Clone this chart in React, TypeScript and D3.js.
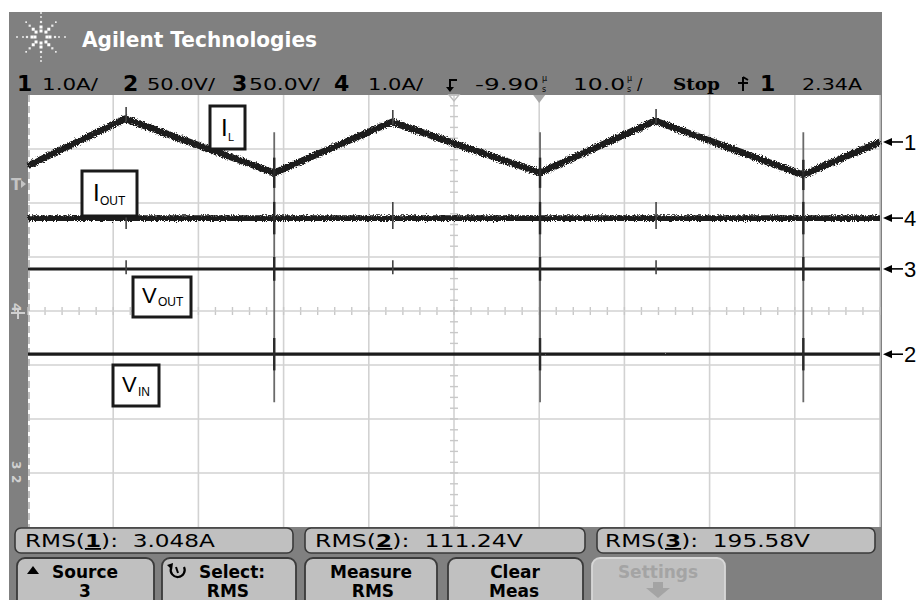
import React from 'react';
import * as d3 from 'd3';

// ---------- data ----------
const timeDomainUs = [0, 100];           // 10 us/div, 10 divisions
const divRange = [-4, 4];                // 8 vertical divisions
const channelIds = ['1', '2', '3', '4'];
const channelScaleText = ['1.0A/', '50.0V/', '50.0V/', '1.0A/'];
const unitsPerDiv = [1.0, 50, 50, 1.0];
const groundDiv = [0, -3, -3, 0];

// Ch1: inductor current (A)
const ilTimes = [0, 11.4, 28.9, 42.7, 60.1, 73.6, 91.0, 100];
const ilAmps = [2.69, 3.56, 2.56, 3.5, 2.56, 3.52, 2.52, 3.13];
// Ch4: output current (A)
const ioutTimes = [0, 100];
const ioutAmps = [1.72, 1.72];
// Ch3: output voltage (V)
const voutTimes = [0, 100];
const voutVolts = [189, 189];
// Ch2: input voltage (V)
const vinTimes = [0, 100];
const vinVolts = [110, 110];

// switching events (us)
const turnOnTimes = [28.9, 60.1, 91.0];
const turnOffTimes = [11.4, 42.7, 73.6];
const turnOnSpikeDiv = [-1.69, 3.31];

const measLabels = ['RMS(', 'RMS(', 'RMS('];
const measChannels = ['1', '2', '3'];
const measValues = ['3.048A', '111.24V', '195.58V'];

const softkeyTop = ['Source', 'Select:', 'Measure', 'Clear', 'Settings'];
const softkeyBottom = ['3', 'RMS', 'RMS', 'Meas', ''];

const markerChannels = ['1', '4', '3', '2'];

// ---------- layout ----------
const W = 917, H = 600;
const GX0 = 28, GX1 = 880, GY0 = 95, GY1 = 527;

const x = d3.scaleLinear().domain(timeDomainUs).range([GX0, GX1]);
const yDiv = d3.scaleLinear().domain(divRange).range([GY1, GY0]);
const chY = (ch: number, v: number) => yDiv(v / unitsPerDiv[ch] + groundDiv[ch]);

const line = d3.line<[number, number]>().x(d => d[0]).y(d => d[1]);

function tracePath(ch: number, times: number[], vals: number[]) {
  return line(times.map((t, i) => [x(t), chY(ch, vals[i])] as [number, number])) || '';
}

const channelLevel = (ch: number, t: number) => {
  if (ch === 0) {
    const i = d3.bisectRight(ilTimes, t) - 1;
    const j = Math.min(i + 1, ilTimes.length - 1);
    const f = j === i ? 0 : (t - ilTimes[i]) / (ilTimes[j] - ilTimes[i]);
    return ilAmps[i] + f * (ilAmps[j] - ilAmps[i]);
  }
  if (ch === 1) return vinVolts[0];
  if (ch === 2) return voutVolts[0];
  return ioutAmps[0];
};

const FONT = '"DejaVu Sans", sans-serif';
const ARIAL = '"Liberation Sans", Arial, sans-serif';

function Logo() {
  const cx = 41, cy = 37;
  const dots: JSX.Element[] = [];
  const rays = [
    { a: 0, r: [6, 9, 14, 18, 24] },
    { a: 180, r: [6, 9, 14, 18, 24] },
    { a: 90, r: [6, 10, 15, 20, 24] },
    { a: 270, r: [6, 10, 15, 20, 24] },
    { a: 45, r: [7, 11, 16, 21] },
    { a: 135, r: [7, 11, 16, 21] },
    { a: 225, r: [7, 11, 16, 21] },
    { a: 315, r: [7, 11, 16, 21] },
  ];
  rays.forEach((ray, k) => {
    ray.r.forEach((r, m) => {
      const rad = (ray.a * Math.PI) / 180;
      const s = m < 2 ? 3 : m < 3 ? 2.2 : 1.7;
      dots.push(
        <rect key={`${k}-${m}`} x={cx + r * Math.cos(rad) - s / 2} y={cy + r * Math.sin(rad) - s / 2} width={s} height={s}
          fill={m < 2 ? '#ffffff' : '#ececec'} />
      );
    });
  });
  return <g>{dots}</g>;
}

function MuS({ x0, y0 }: { x0: number; y0: number }) {
  return (
    <text x={x0} y={y0 - 9} fontFamily={FONT} fontSize={8} fill="#000">
      µ<tspan x={x0} dy={11}>s</tspan>
    </text>
  );
}

export default function App() {
  const gridV = d3.range(0, 11).map(i => GX0 + (i * (GX1 - GX0)) / 10);
  const gridH = d3.range(0, 9).map(i => GY0 + (i * (GY1 - GY0)) / 8);
  const cxC = (GX0 + GX1) / 2;
  const cyC = (GY0 + GY1) / 2;
  const minorX = d3.range(0, 51).map(i => GX0 + (i * (GX1 - GX0)) / 50);
  const minorY = d3.range(0, 41).map(i => GY0 + (i * (GY1 - GY0)) / 40);

  const traces = [
    { ch: 0, d: tracePath(0, ilTimes, ilAmps), w: 6.8, f: 'url(#fuzz)' },
    { ch: 3, d: tracePath(3, ioutTimes, ioutAmps), w: 5.8, f: 'url(#fuzz)' },
    { ch: 2, d: tracePath(2, voutTimes, voutVolts), w: 3, f: 'url(#fuzz2)' },
    { ch: 1, d: tracePath(1, vinTimes, vinVolts), w: 3.2, f: 'url(#fuzz2)' },
  ];

  const onSpikeHalf = [0.28, 0.3, 0.22, 0.3]; // per channel, in divisions
  const offSpikeUp = [0.22, 0.0, 0.16, 0.3];
  const offSpikeDown = [0.05, 0.0, 0.1, 0.2];

  const markerY = [chY(0, ilAmps[ilAmps.length - 1]), chY(3, ioutAmps[1]), chY(2, voutVolts[1]), chY(1, vinVolts[1])];

  const measBoxes = [
    { x0: 15, x1: 293, tx: 25, tl: 190 },
    { x0: 305, x1: 585, tx: 315, tl: 208 },
    { x0: 597, x1: 875, tx: 605, tl: 205 },
  ];
  const keys = [
    { x0: 17, x1: 154, tx: 85, bx: 85 },
    { x0: 162, x1: 296, tx: 232, bx: 228 },
    { x0: 305, x1: 437, tx: 371, bx: 373 },
    { x0: 448, x1: 583, tx: 515, bx: 514 },
    { x0: 592, x1: 725, tx: 658, bx: 658 },
  ];

  const headerItems = [
    { id: 0, nx: 17, vx: 42, vl: 56 },
    { id: 1, nx: 123, vx: 147, vl: 68 },
    { id: 2, nx: 232, vx: 249, vl: 71 },
    { id: 3, nx: 334, vx: 368, vl: 55 },
  ];

  return (
    <svg width={W} height={H} viewBox={`0 0 ${W} ${H}`} style={{ position: 'absolute', left: 0, top: 0, background: '#fff' }}>
      <defs>
        <filter id="fuzz" filterUnits="userSpaceOnUse" x={0} y={0} width={W} height={H}>
          <feTurbulence type="fractalNoise" baseFrequency="0.9" numOctaves={2} seed={4} result="n" />
          <feDisplacementMap in="SourceGraphic" in2="n" scale={5} xChannelSelector="R" yChannelSelector="G" />
        </filter>
        <filter id="fuzz2" filterUnits="userSpaceOnUse" x={0} y={0} width={W} height={H}>
          <feTurbulence type="fractalNoise" baseFrequency="0.9" numOctaves={1} seed={7} result="n" />
          <feDisplacementMap in="SourceGraphic" in2="n" scale={1.6} xChannelSelector="R" yChannelSelector="G" />
        </filter>
      </defs>

      {/* frame */}
      <rect x={9} y={12} width={873} height={588} fill="#808080" />
      <Logo />
      <text x={82} y={47} fontFamily={FONT} fontWeight="bold" fontSize={22} fill="#fff" textLength={235} lengthAdjust="spacingAndGlyphs">
        Agilent Technologies
      </text>

      {/* channel header row */}
      {headerItems.map(h => (
        <g key={h.id}>
          <text x={h.nx} y={91} fontFamily={FONT} fontWeight="bold" fontSize={22} fill="#000">{channelIds[h.id]}</text>
          <text x={h.vx} y={90} fontFamily={FONT} fontSize={16} fill="#000" textLength={h.vl} lengthAdjust="spacingAndGlyphs">
            {channelScaleText[h.id]}
          </text>
        </g>
      ))}
      {/* trigger icon */}
      <path d="M449,80 H457 M450,80 V90" stroke="#000" strokeWidth={2} fill="none" />
      <path d="M446,88 L454,88 L450,93 Z" fill="#000" transform="translate(0,-1)" />
      <text x={475} y={90} fontFamily={FONT} fontSize={16} fill="#000" textLength={64} lengthAdjust="spacingAndGlyphs">-9.90</text>
      <MuS x0={542} y0={90} />
      <text x={573} y={90} fontFamily={FONT} fontSize={16} fill="#000" textLength={52} lengthAdjust="spacingAndGlyphs">10.0</text>
      <MuS x0={627} y0={90} />
      <text x={637} y={90} fontFamily={FONT} fontSize={16} fill="#000">/</text>
      <text x={673} y={90} fontFamily={'"DejaVu Serif", serif'} fontWeight="bold" fontSize={17} fill="#000" textLength={47} lengthAdjust="spacingAndGlyphs">Stop</text>
      <path d="M743,77 V91 M738,83 H748 M743,77 L748,80" stroke="#000" strokeWidth={2} fill="none" />
      <text x={760} y={91} fontFamily={FONT} fontWeight="bold" fontSize={22} fill="#000">1</text>
      <text x={802} y={90} fontFamily={FONT} fontSize={16} fill="#000" textLength={60} lengthAdjust="spacingAndGlyphs">2.34A</text>

      {/* graticule */}
      <rect x={GX0} y={GY0} width={GX1 - GX0} height={GY1 - GY0} fill="#ffffff" />
      {gridV.slice(1, 10).map((gx, i) => (
        <line key={`v${i}`} x1={gx} x2={gx} y1={GY0} y2={GY1} stroke="#d2d2d2" strokeWidth={1.6} />
      ))}
      {gridH.slice(1, 8).map((gy, i) =>
        i === 3 ? null : <line key={`h${i}`} x1={GX0} x2={GX1} y1={gy} y2={gy} stroke="#d2d2d2" strokeWidth={1.6} />
      )}
      {minorX.map((mx, i) => (
        <line key={`mx${i}`} x1={mx} x2={mx} y1={cyC - 4} y2={cyC + 4} stroke="#c8c8c8" strokeWidth={1.4} />
      ))}
      <line x1={GX0} x2={GX1} y1={cyC} y2={cyC} stroke="#d2d2d2" strokeWidth={1.4} />
      {minorY.map((my, i) => (
        <line key={`my${i}`} x1={cxC - 4} x2={cxC + 4} y1={my} y2={my} stroke="#c8c8c8" strokeWidth={1.4} />
      ))}
      <line x1={GX1} x2={GX1} y1={GY0} y2={GY1} stroke="#c8c8c8" strokeWidth={1.6} />
      <line x1={GX0 + 1} x2={GX0 + 1} y1={GY0} y2={GY1} stroke="#c0c0c0" strokeWidth={2} strokeDasharray="7 4" />

      {/* top reference markers */}
      <path d={`M${cxC - 5},${GY0} L${cxC + 5},${GY0} L${cxC},${GY0 + 6} Z`} fill="none" stroke="#bdbdbd" strokeWidth={1.4} />
      <path d={`M${gridV[6] - 6},${GY0} L${gridV[6] + 6},${GY0} L${gridV[6]},${GY0 + 8} Z`} fill="#a8a8a8" />

      {/* left bar icons */}
      <text x={11} y={190} fontFamily={FONT} fontWeight="bold" fontSize={15} fill="#c4c4c4">T</text>
      <path d="M21,180 L26,184 L21,188 Z" fill="#c4c4c4" />
      <text x={0} y={0} fontFamily={FONT} fontWeight="bold" fontSize={13} fill="#d0d0d0" transform={`translate(12,${cyC - 8}) rotate(90)`}>4</text>
      <path d={`M11,${cyC + 2} L25,${cyC + 2} M18,${cyC - 2} L18,${cyC + 8}`} stroke="#d0d0d0" strokeWidth={2} />
      <text x={0} y={0} fontFamily={FONT} fontWeight="bold" fontSize={12} fill="#d0d0d0" transform={`translate(12,${yDiv(-3) - 12}) rotate(90)`}>3</text>
      <text x={0} y={0} fontFamily={FONT} fontWeight="bold" fontSize={12} fill="#d0d0d0" transform={`translate(12,${yDiv(-3) + 2}) rotate(90)`}>2</text>

      {/* turn-on spikes (all channels overlap) */}
      {turnOnTimes.map((t, i) => (
        <line key={`sp${i}`} x1={x(t)} x2={x(t)} y1={yDiv(turnOnSpikeDiv[1])} y2={yDiv(turnOnSpikeDiv[0])} stroke="#6a6a6a" strokeWidth={1.8} />
      ))}

      {/* traces */}
      {traces.map(tr => (
        <path key={tr.ch} d={tr.d} fill="none" stroke="#1a1a1a" strokeWidth={tr.w} strokeLinejoin="round" filter={tr.f} />
      ))}

      {/* per-channel spikes */}
      {[0, 1, 2, 3].map(ch =>
        turnOnTimes.map((t, i) => {
          const yc = chY(ch, channelLevel(ch, t));
          const h = (onSpikeHalf[ch] * (GY1 - GY0)) / 8;
          return <line key={`on${ch}-${i}`} x1={x(t)} x2={x(t)} y1={yc - h} y2={yc + h} stroke="#2a2a2a" strokeWidth={2.4} />;
        })
      )}
      {[0, 1, 2, 3].map(ch =>
        turnOffTimes.map((t, i) => {
          if (offSpikeUp[ch] === 0) return null;
          const yc = chY(ch, channelLevel(ch, t));
          const d = (GY1 - GY0) / 8;
          return (
            <line key={`off${ch}-${i}`} x1={x(t) + 1} x2={x(t) + 1} y1={yc - offSpikeUp[ch] * d} y2={yc + offSpikeDown[ch] * d} stroke="#444" strokeWidth={1.6} />
          );
        })
      )}

      {/* annotation boxes */}
      <g fontFamily={ARIAL} fill="#000">
        <rect x={210} y={106} width={35} height={43} fill="#fff" stroke="#1a1a1a" strokeWidth={3} />
        <text x={221} y={136} fontSize={24}>I</text>
        <text x={228} y={141} fontSize={11}>L</text>

        <rect x={82} y={171} width={55} height={45} fill="#fff" stroke="#1a1a1a" strokeWidth={3} />
        <text x={93} y={201} fontSize={24}>I</text>
        <text x={100} y={205} fontSize={12}>OUT</text>

        <rect x={133} y={277} width={58} height={40} fill="#fff" stroke="#1a1a1a" strokeWidth={3} />
        <text x={142} y={303} fontSize={22}>V</text>
        <text x={158} y={306} fontSize={12}>OUT</text>

        <rect x={113} y={365} width={46} height={41} fill="#fff" stroke="#1a1a1a" strokeWidth={3} />
        <text x={122} y={392} fontSize={22}>V</text>
        <text x={138} y={396} fontSize={12}>IN</text>
      </g>

      {/* right-side channel markers */}
      {markerChannels.map((m, i) => (
        <g key={`mk${m}`}>
          <line x1={888} x2={903} y1={markerY[i]} y2={markerY[i]} stroke="#000" strokeWidth={1.6} />
          <path d={`M883,${markerY[i]} L892,${markerY[i] - 4} L892,${markerY[i] + 4} Z`} fill="#000" />
          <text x={904} y={markerY[i] + 8} fontFamily={ARIAL} fontSize={22} fill="#000">{m}</text>
        </g>
      ))}

      {/* measurement row */}
      {measBoxes.map((b, i) => (
        <g key={`mb${i}`}>
          <rect x={b.x0} y={528} width={b.x1 - b.x0} height={25} rx={6} fill="#c0c0c0" stroke="#3a3a3a" strokeWidth={1.6} />
          <text x={b.tx} y={547} fontFamily={FONT} fontSize={18} fill="#000" textLength={b.tl} lengthAdjust="spacingAndGlyphs">
            {measLabels[i]}
            <tspan fontWeight="bold" textDecoration="underline">{measChannels[i]}</tspan>
            {'): ' + '\u00a0' + measValues[i]}
          </text>
        </g>
      ))}

      {/* softkeys */}
      {keys.map((k, i) => {
        const disabled = i === 4;
        return (
          <g key={`k${i}`}>
            <rect x={k.x0} y={558} width={k.x1 - k.x0} height={52} rx={8} fill="#c0c0c0" stroke={disabled ? '#d8d8d8' : '#3a3a3a'} strokeWidth={1.8} />
            <text x={k.tx} y={578} textAnchor="middle" fontFamily={FONT} fontWeight="bold" fontSize={17} fill={disabled ? '#a4a4a4' : '#000'}>
              {softkeyTop[i]}
            </text>
            {softkeyBottom[i] && (
              <text x={k.bx} y={597} textAnchor="middle" fontFamily={FONT} fontWeight="bold" fontSize={17} fill="#000">
                {softkeyBottom[i]}
              </text>
            )}
          </g>
        );
      })}
      <path d="M27,574 L33,566 L39,574 Z" fill="#000" />
      <g stroke="#000" strokeWidth={2.2} fill="none">
        <path d="M171,568 A7,7 0 1,0 184,567" />
      </g>
      <path d="M167,565 L173,563 L172,570 Z" fill="#000" />
      <path d="M176,567 L178,573" stroke="#000" strokeWidth={2} />
      <path d="M646,588 L670,588 L658,598 Z" fill="#a4a4a4" />
      <rect x={653} y={582} width={10} height={6} fill="#a4a4a4" />
    </svg>
  );
}
